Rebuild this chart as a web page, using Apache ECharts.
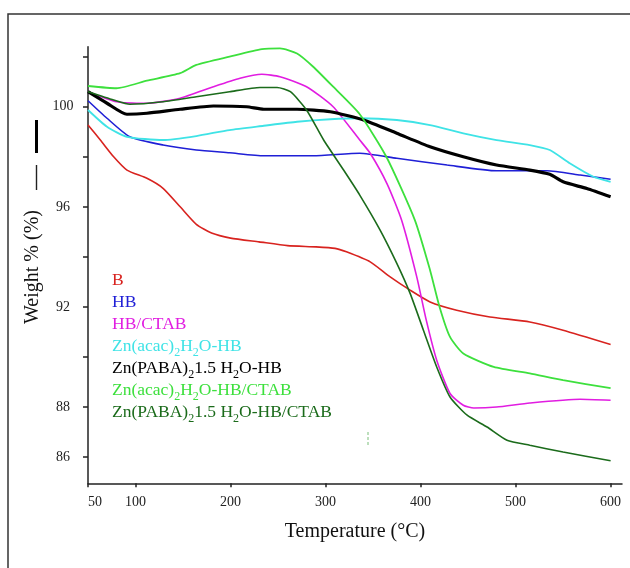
<!DOCTYPE html>
<html>
<head>
<meta charset="utf-8">
<script src="https://cdn.jsdelivr.net/npm/echarts@6/dist/echarts.min.js"></script>
<style>
  html, body { margin: 0; padding: 0; background: #fff; }
  #chart { width: 630px; height: 568px; }
</style>
</head>
<body>
<div id="chart"></div>
<script>
// temperatures (°C) and weight (%)
const bT = [50, 63, 77, 91, 112, 129, 147, 164, 180, 200, 230, 260, 290, 310, 322, 347, 368, 389, 410, 438, 473, 515, 550, 600]
const bW = [99.27, 98.67, 98.0, 97.47, 97.14, 96.74, 96.0, 95.3, 94.95, 94.75, 94.6, 94.45, 94.4, 94.34, 94.2, 93.8, 93.2, 92.67, 92.2, 91.87, 91.6, 91.4, 91.07, 90.5]

const hbT = [50, 70, 94, 129, 164, 199, 235, 287, 336, 375, 428, 480, 533, 568, 600]
const hbW = [100.24, 99.54, 98.8, 98.47, 98.27, 98.16, 98.04, 98.04, 98.14, 97.94, 97.67, 97.44, 97.44, 97.27, 97.1]

const ctabT = [50, 80, 112, 147, 182, 210, 233, 252, 280, 308, 336, 347, 365, 380, 396, 406, 417, 431, 445, 456, 480, 515, 568, 600]
const ctabW = [100.6, 100.2, 100.14, 100.34, 100.8, 101.14, 101.3, 101.2, 100.8, 100.0, 98.67, 98.14, 96.9, 95.47, 93.2, 91.47, 89.87, 88.54, 88.07, 87.96, 88.0, 88.16, 88.31, 88.27]

const acacT = [50, 70, 91, 129, 164, 199, 235, 270, 305, 336, 375, 410, 445, 480, 515, 536, 557, 582, 600]
const acacW = [99.87, 99.2, 98.8, 98.67, 98.83, 99.07, 99.24, 99.4, 99.5, 99.54, 99.47, 99.27, 98.94, 98.67, 98.47, 98.27, 97.74, 97.2, 97.0]

const pabaT = [50, 70, 91, 112, 147, 182, 217, 235, 270, 305, 340, 375, 410, 445, 480, 515, 536, 550, 575, 600]
const pabaW = [100.6, 100.14, 99.7, 99.74, 99.9, 100.03, 100.0, 99.9, 99.9, 99.8, 99.47, 98.94, 98.4, 98.0, 97.67, 97.47, 97.3, 97.0, 96.73, 96.4]

const acacCtabT = [50, 80, 112, 147, 164, 199, 233, 252, 270, 287, 308, 336, 364, 394, 410, 420, 431, 445, 477, 515, 550, 600]
const acacCtabW = [100.83, 100.74, 101.04, 101.34, 101.67, 102.0, 102.3, 102.33, 102.13, 101.6, 100.8, 99.7, 98.0, 95.47, 93.47, 92.0, 90.8, 90.14, 89.6, 89.34, 89.07, 88.75]

const pabaCtabT = [50, 77, 94, 129, 164, 199, 231, 249, 263, 280, 298, 319, 336, 357, 375, 389, 403, 417, 431, 449, 470, 491, 515, 550, 600]
const pabaCtabW = [100.6, 100.27, 100.1, 100.2, 100.4, 100.6, 100.77, 100.77, 100.6, 99.87, 98.67, 97.47, 96.47, 95.1, 93.74, 92.54, 91.07, 89.6, 88.4, 87.67, 87.2, 86.67, 86.47, 86.2, 85.85]

const xTicks = [50, 100, 200, 300, 400, 500, 600]
const yTicks = [86, 88, 90, 92, 94, 96, 98, 100, 102]
const yLabels = [86, 88, 92, 96, 100]

const serif = 'Liberation Serif, Times New Roman, serif'

const samples = [
    {name: 'B', t: bT, w: bW, color: '#d8231f', width: 1.6},
    {name: 'HB', t: hbT, w: hbW, color: '#1f1fd6', width: 1.6},
    {name: 'HB/CTAB', t: ctabT, w: ctabW, color: '#e11de1', width: 1.6},
    {name: 'Zn(acac)2H2O-HB', t: acacT, w: acacW, color: '#3fe3e6', width: 1.8},
    {name: 'Zn(PABA)2 1.5 H2O-HB', t: pabaT, w: pabaW, color: '#000000', width: 3.2},
    {name: 'Zn(acac)2H2O-HB/CTAB', t: acacCtabT, w: acacCtabW, color: '#3de03d', width: 1.8},
    {name: 'Zn(PABA)2 1.5 H2O-HB/CTAB', t: pabaCtabT, w: pabaCtabW, color: '#1b6b1b', width: 1.6},
]

// legend texts with subscripts
const legendRows = [
    '{n|B}',
    '{n|HB}',
    '{n|HB/CTAB}',
    '{n|Zn(acac)}{s|2}{n|H}{s|2}{n|O-HB}',
    '{n|Zn(PABA)}{s|2}{n|1.5 H}{s|2}{n|O-HB}',
    '{n|Zn(acac)}{s|2}{n|H}{s|2}{n|O-HB/CTAB}',
    '{n|Zn(PABA)}{s|2}{n|1.5 H}{s|2}{n|O-HB/CTAB}',
]

const chart = echarts.init(document.getElementById('chart'))

const legendGraphics = legendRows.map((txt, i) => ({
    type: 'text',
    left: 112,
    top: 271 + i * 22,
    style: {
        text: txt,
        fill: samples[i].color,
        rich: {
            n: {fontFamily: serif, fontSize: 17.5, lineHeight: 21, fill: samples[i].color, verticalAlign: 'bottom'},
            s: {fontFamily: serif, fontSize: 12, lineHeight: 21, fill: samples[i].color, verticalAlign: 'bottom', padding: [0, 0, -4, 0]}
        }
    }
}))

chart.setOption({
    animation: false,
    backgroundColor: '#fff',
    grid: {left: 88, right: 8, top: 46.7, bottom: 84.7},
    xAxis: {
        type: 'value',
        min: 50,
        max: 612,
        name: 'Temperature (°C)',
        nameLocation: 'middle',
        nameGap: 38,
        nameTextStyle: {fontFamily: serif, fontSize: 20, color: '#111'},
        axisLine: {lineStyle: {color: '#222', width: 1.5}},
        axisTick: {length: 4, lineStyle: {color: '#222', width: 1.5}, customValues: xTicks},
        axisLabel: {
            customValues: xTicks,
            margin: 12,
            fontFamily: serif,
            fontSize: 14,
            color: '#222',
            formatter: v => v === 50 ? '{p|50}' : String(v),
            rich: {p: {fontFamily: serif, fontSize: 14, color: '#222', padding: [0, 0, 0, 14]}}
        },
        splitLine: {show: false}
    },
    yAxis: {
        type: 'value',
        min: 84.95,
        max: 102.4,
        axisLine: {show: true, lineStyle: {color: '#222', width: 1.5}},
        axisTick: {show: true, length: 5, lineStyle: {color: '#222', width: 1.5}, customValues: yTicks},
        axisLabel: {
            customValues: yLabels,
            align: 'center',
            margin: 25,
            fontFamily: serif,
            fontSize: 14,
            color: '#222'
        },
        splitLine: {show: false}
    },
    series: samples.map(s => ({
        name: s.name,
        type: 'line',
        data: s.t.map((t, i) => [t, s.w[i]]),
        smooth: 0.2,
        symbol: 'none',
        lineStyle: {color: s.color, width: s.width},
        itemStyle: {color: s.color}
    })),
    graphic: [
        {
            type: 'rect',
            shape: {x: 8, y: 14, width: 700, height: 700},
            style: {fill: 'none', stroke: '#333', lineWidth: 1.5},
            silent: true
        },
        {
            type: 'text',
            x: 33,
            y: 267,
            rotation: Math.PI / 2,
            style: {text: 'Weight % (%)', fontFamily: serif, fontSize: 20, fill: '#111', align: 'center', verticalAlign: 'middle'}
        },
        {
            type: 'line',
            shape: {x1: 36.5, y1: 165, x2: 36.5, y2: 190},
            style: {stroke: '#222', lineWidth: 1.4}
        },
        {
            type: 'line',
            shape: {x1: 36.5, y1: 120, x2: 36.5, y2: 153},
            style: {stroke: '#000', lineWidth: 3}
        },
        {
            type: 'line',
            shape: {x1: 368, y1: 432, x2: 368, y2: 447},
            style: {stroke: '#7bbf7b', lineWidth: 1, lineDash: [3, 2]}
        },
        ...legendGraphics
    ]
})
</script>
</body>
</html>
